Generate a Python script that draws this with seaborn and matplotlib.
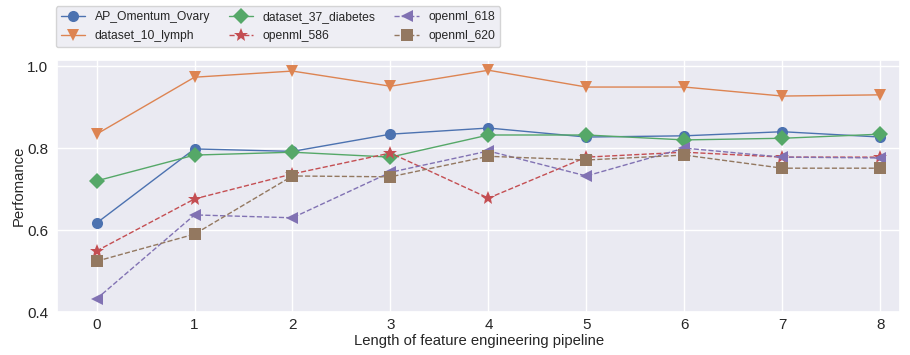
import numpy as np
import pandas as pd
import matplotlib
matplotlib.use('Agg')
import matplotlib.pyplot as plt
import seaborn as sns

# pipeline length on the x axis
steps = [0, 1, 2, 3, 4, 5, 6, 7, 8]

ap_omentum_ovary = [0.617, 0.798, 0.792, 0.834, 0.849, 0.827, 0.830, 0.840, 0.827]
dataset_10_lymph = [0.834, 0.973, 0.988, 0.951, 0.990, 0.949, 0.949, 0.927, 0.930]
dataset_37_diabetes = [0.720, 0.783, 0.790, 0.778, 0.832, 0.832, 0.820, 0.824, 0.834]
openml_586 = [0.549, 0.676, 0.737, 0.788, 0.678, 0.778, 0.790, 0.778, 0.778]
openml_618 = [0.432, 0.637, 0.630, 0.741, 0.793, 0.732, 0.800, 0.778, 0.776]
openml_620 = [0.524, 0.590, 0.732, 0.730, 0.780, 0.771, 0.783, 0.751, 0.751]

names = ['AP_Omentum_Ovary', 'dataset_10_lymph', 'dataset_37_diabetes',
         'openml_586', 'openml_618', 'openml_620']
series = [ap_omentum_ovary, dataset_10_lymph, dataset_37_diabetes,
          openml_586, openml_618, openml_620]
markers = ['o', 'v', 'D', '*', '<', 's']
styles = ['-', '-', '-', '--', '--', '--']
sizes = [8, 9, 8, 10, 9, 8]

sns.set_theme(style='darkgrid')
plt.rcParams['font.family'] = ['Liberation Sans', 'DejaVu Sans']
colors = sns.color_palette('deep')

fig, ax = plt.subplots(figsize=(9.1, 3.55), dpi=100)

for i, (name, vals) in enumerate(zip(names, series)):
    sns.lineplot(x=steps, y=vals, ax=ax, color=colors[i], marker=markers[i],
                 linestyle=styles[i], markersize=sizes[i], markeredgewidth=0,
                 linewidth=1, label=name)

ax.set_ylim(0.4, 1.015)
ax.set_xlim(-0.4, 8.2)
ax.set_yticks([0.4, 0.6, 0.8, 1.0])
ax.set_xticks(steps)
ax.tick_params(axis='x', labelsize=11, length=0, pad=4)
ax.tick_params(axis='y', labelsize=11, length=0, pad=6.5)
ax.set_xlabel('Length of feature engineering pipeline', fontsize=10.7, labelpad=2)
ax.set_ylabel('Perfomance', fontsize=10.7, labelpad=1)

ax.legend(loc='lower left', bbox_to_anchor=(56 / 910, 1 - 47 / 355),
          bbox_transform=fig.transFigure, ncol=3, fontsize=8.7,
          frameon=True, borderaxespad=0, handlelength=2.0, columnspacing=1.55,
          labelspacing=0.6, handletextpad=0.8)

fig.subplots_adjust(left=0.063, right=0.989, top=0.831, bottom=0.121)
fig.savefig('out.png', dpi=100)
